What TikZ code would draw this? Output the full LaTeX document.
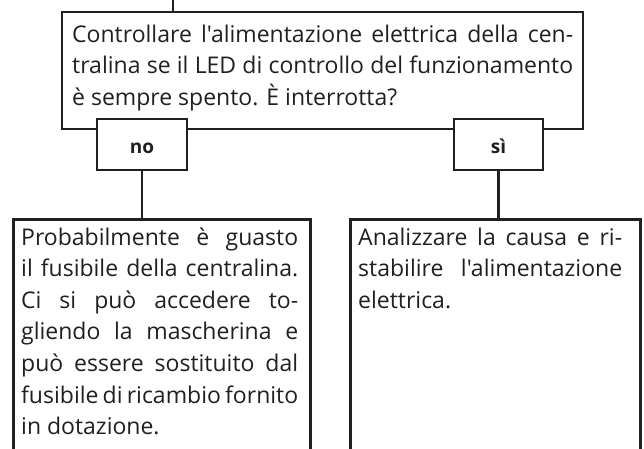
\documentclass[tikz,border=0pt]{standalone}
\usepackage{fontspec}
\setmainfont{Open Sans}[Ligatures=TeXOff]
\usetikzlibrary{calc}
\definecolor{ink}{HTML}{231F20}
\begin{document}
\begin{tikzpicture}[x=1pt,y=-1pt,
  box/.style={draw=ink, line width=2.6pt, fill=white, inner sep=0pt, rectangle},
  conn/.style={draw=ink, line width=2.6pt},
  txt/.style={text=ink, inner sep=0pt, anchor=base west, align=justify, font=\fontsize{23}{31.6}\selectfont},
  lbl/.style={text=ink, inner sep=0pt, anchor=base, font=\bfseries\fontsize{19}{22}\selectfont}]
\useasboundingbox (0,0) rectangle (644,448);
\clip (0,0) rectangle (644,448);
\coordinate (top) at (173,-5);
\node[box, minimum width=521pt, minimum height=117pt] (main) at (322.5,70.5) {};
\draw[conn] (top) -- (top |- main.north);
\node[box, minimum width=297pt, minimum height=260pt, anchor=north west] (left) at (12,218) {};
\node[box, minimum width=290pt, minimum height=260pt, anchor=north west] (right) at (349,218) {};
\node[box, minimum width=90pt, minimum height=51pt] (no) at (142,144.5) {};
\node[box, minimum width=89pt, minimum height=51pt] (si) at (498.5,144.5) {};
\draw[conn] (no.south) -- (no.south |- left.north);
\draw[conn] (si.south) -- (si.south |- right.north);
\node[lbl] (nolbl) at (142,153.5) {no};
\node[lbl] (silbl) at (498.5,153.5) {sì};
\node[txt, text width=501pt] (maintext) at (72,42) {Controllare l'alimentazione elettrica della cen-\linebreak tralina se il LED di controllo del funzionamento\linebreak è sempre spento. È interrotta?};
\node[txt, text width=277pt] (lefttext) at (21,245) {Probabilmente è guasto\linebreak il fusibile della centralina.\linebreak Ci si può accedere to-\linebreak gliendo la mascherina e\linebreak può essere sostituito dal\linebreak fusibile di ricambio fornito\linebreak in dotazione.};
\node[txt, text width=264pt] (righttext) at (358,245) {Analizzare la causa e ri-\linebreak stabilire l'alimentazione\linebreak elettrica.};
\end{tikzpicture}
\end{document}
